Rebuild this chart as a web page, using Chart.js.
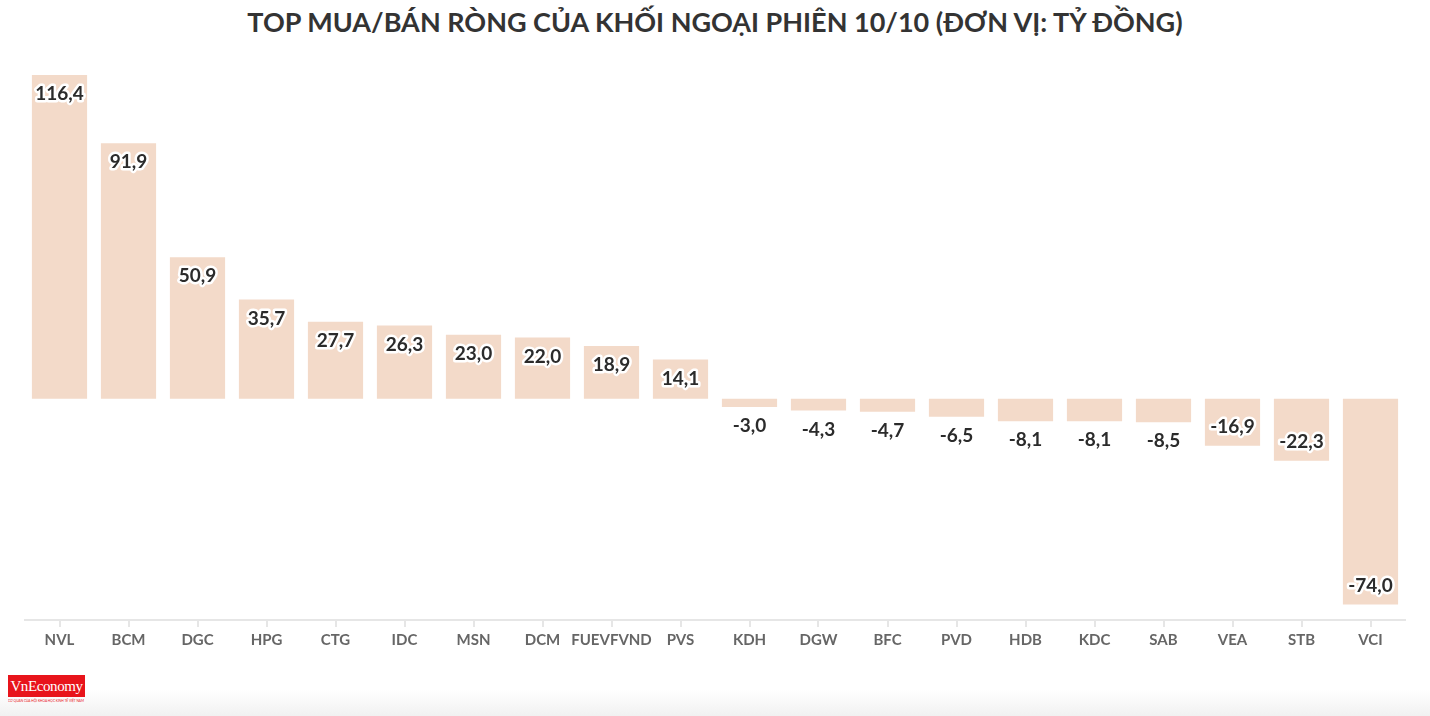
<!DOCTYPE html>
<html>
<head>
<meta charset="utf-8">
<script src="https://cdn.jsdelivr.net/npm/chart.js@4.4.0/dist/chart.umd.min.js"></script>
<style>
  html, body { margin: 0; padding: 0; background: #fff; }
  body { width: 1430px; height: 716px; position: relative; overflow: hidden; font-family: 'Lato', sans-serif; }
  #title { position: absolute; top: 5px; left: 0; width: 1430px; text-align: center; font-weight: 700; font-size: 27px; color: #333; letter-spacing: 0; }
  #wrap { position: absolute; left: 0; top: 0; width: 1430px; height: 653px; }
  #logo { position: absolute; left: 8px; top: 675px; width: 77px; height: 22px; background: #e8141b; color: #fff; font-family: 'Liberation Serif', serif; font-size: 15px; line-height: 23px; text-align: center; letter-spacing: -0.4px; }
  #logo-sub { position: absolute; left: 8px; top: 698px; font-size: 4px; color: #e8141b; white-space: nowrap; transform: scaleX(0.8); transform-origin: left; }
  #shade { position: absolute; left: 0; bottom: 0; width: 1430px; height: 26px; background: linear-gradient(#fff, #f1f1f1); }
</style>
</head>
<body>
<div id="shade"></div>
<div id="title">TOP MUA/BÁN RÒNG CỦA KHỐI NGOẠI PHIÊN 10/10 (ĐƠN VỊ: TỶ ĐỒNG)</div>
<div id="wrap"><canvas id="chart"></canvas></div>
<div id="logo">VnEconomy</div>
<div id="logo-sub">CƠ QUAN CỦA HỘI KHOA HỌC KINH TẾ VIỆT NAM</div>
<script>
// mã cổ phiếu và giá trị mua/bán ròng (tỷ đồng)
const tickers = ['NVL', 'BCM', 'DGC', 'HPG', 'CTG', 'IDC', 'MSN', 'DCM', 'FUEVFVND', 'PVS',
                 'KDH', 'DGW', 'BFC', 'PVD', 'HDB', 'KDC', 'SAB', 'VEA', 'STB', 'VCI'];
const netValues = [116.4, 91.9, 50.9, 35.7, 27.7, 26.3, 23.0, 22.0, 18.9, 14.1,
                   -3.0, -4.3, -4.7, -6.5, -8.1, -8.1, -8.5, -16.9, -22.3, -74.0];

const fmt = v => v.toFixed(1).replace('.', ',');

// nhãn giá trị: trong cột nếu cột đủ dài, ngoài cột nếu ngắn
const valueLabels = {
    id: 'valueLabels',
    afterDatasetsDraw(chart) {
        const ctx = chart.ctx;
        const meta = chart.getDatasetMeta(0);
        ctx.save();
        ctx.font = "700 19px 'Lato', sans-serif";
        ctx.textAlign = 'center';
        ctx.textBaseline = 'middle';
        ctx.lineJoin = 'round';
        meta.data.forEach((bar, i) => {
            const v = netValues[i];
            const len = Math.abs(bar.base - bar.y);
            const dir = v >= 0 ? 1 : -1;
            let y;
            if (len > 36) y = bar.y + dir * 19;
            else y = bar.y - dir * 19;
            const txt = fmt(v);
            ctx.strokeStyle = '#fff';
            ctx.lineWidth = 5;
            ctx.strokeText(txt, bar.x, y);
            ctx.fillStyle = '#2b2b2b';
            ctx.fillText(txt, bar.x, y);
        });
        ctx.restore();
    }
};

new Chart(document.getElementById('chart'), {
    type: 'bar',
    data: {
        labels: tickers,
        datasets: [{
            data: netValues,
            backgroundColor: '#f3dac9',
            borderWidth: 0,
            barPercentage: 0.8,
            categoryPercentage: 1
        }]
    },
    options: {
        responsive: true,
        maintainAspectRatio: false,
        animation: false,
        layout: { padding: { left: 25, right: 25, top: 75, bottom: 0 } },
        plugins: {
            legend: { display: false },
            tooltip: { enabled: false }
        },
        scales: {
            x: {
                grid: {
                    display: true,
                    drawOnChartArea: false,
                    offset: false,
                    color: '#e6e6e6',
                    tickLength: 7,
                    lineWidth: 2
                },
                border: { color: '#e6e6e6', width: 2 },
                ticks: {
                    color: '#666',
                    font: { family: "'Lato', sans-serif", size: 15, weight: '700' },
                    padding: 4,
                    maxRotation: 0,
                    autoSkip: false
                }
            },
            y: {
                display: false,
                min: -79.6,
                max: 116.4
            }
        }
    },
    plugins: [valueLabels]
});
</script>
</body>
</html>
